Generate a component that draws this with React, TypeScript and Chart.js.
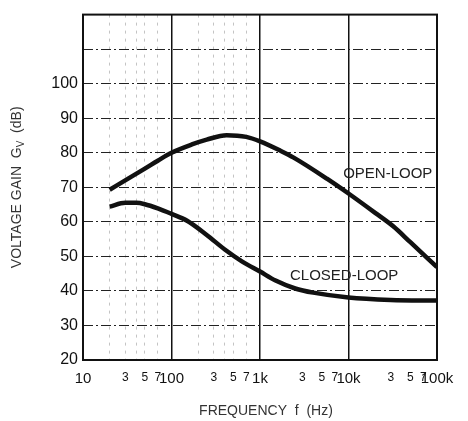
import React, { useEffect, useRef } from "react";
import { Chart, registerables } from "chart.js";

Chart.register(...registerables);

const openFreq = [20, 30, 50, 70, 100, 170, 250, 420, 700, 1000, 1700, 2400, 5700, 10000, 20000, 32000, 50000, 100000];
const openGain = [69.3, 72.0, 75.4, 77.7, 80.0, 82.4, 83.8, 85.1, 84.6, 83.3, 80.6, 78.6, 72.5, 68.2, 62.6, 58.7, 54.1, 46.9];

const closedFreq = [20, 30, 40, 50, 70, 100, 150, 250, 400, 630, 1000, 1500, 2500, 4000, 10000, 30000, 100000];
const closedGain = [64.4, 65.5, 65.5, 65.1, 63.9, 62.3, 60.3, 56.2, 52.0, 48.5, 45.6, 43.0, 40.7, 39.5, 38.1, 37.4, 37.2];

const xTicks = [10, 20, 30, 40, 50, 70, 100, 200, 300, 400, 500, 700, 1000, 3000, 5000, 7000, 10000, 30000, 50000, 70000, 100000];
const majorLabels: Record<number, string> = { 10: "10", 100: "100", 1000: "1k", 10000: "10k", 100000: "100k" };
const minorLabels: Record<number, string> = { 3: "3", 5: "5", 7: "7" };
const yTickLabels = ["20", "30", "40", "50", "60", "70", "80", "90", "100"];

const annotations = [
  { text: "OPEN-LOOP", x: 8700, y: 73.9 },
  { text: "CLOSED-LOOP", x: 2180, y: 44.4 },
];

const FAMILY = "'Liberation Sans', Arial, sans-serif";

const isMajor = (v: number) => majorLabels[v] !== undefined;
const mantissa = (v: number) => Math.round(v / Math.pow(10, Math.floor(Math.log10(v) + 1e-9)));

const framePlugin = {
  id: "frameAndTitles",
  afterDraw(chart: any) {
    const { ctx, chartArea, scales } = chart;
    const { left, top, right, bottom } = chartArea;
    ctx.save();
    ctx.strokeStyle = "#111";
    ctx.lineWidth = 2;
    ctx.strokeRect(left, top, right - left, bottom - top);

    ctx.fillStyle = "#222";
    ctx.font = `15px ${FAMILY}`;
    ctx.textAlign = "left";
    ctx.textBaseline = "middle";
    for (const a of annotations) {
      ctx.fillText(a.text, scales.x.getPixelForValue(a.x), scales.y.getPixelForValue(a.y));
    }

    ctx.fillStyle = "#333";
    ctx.font = `14px ${FAMILY}`;
    ctx.textAlign = "center";
    ctx.fillText("FREQUENCY  f  (Hz)", (left + right) / 2 + 6, 411);

    const midY = (top + bottom) / 2;
    ctx.translate(17, midY);
    ctx.rotate(-Math.PI / 2);
    const big = `14px ${FAMILY}`;
    const small = `10px ${FAMILY}`;
    const p1 = "VOLTAGE GAIN  G";
    const p2 = "V";
    const p3 = "  (dB)";
    ctx.font = big;
    const w1 = ctx.measureText(p1).width;
    const w3 = ctx.measureText(p3).width;
    ctx.font = small;
    const w2 = ctx.measureText(p2).width;
    const total = w1 + w2 + w3;
    let x0 = -total / 2;
    ctx.textAlign = "left";
    ctx.font = big;
    ctx.fillText(p1, x0, 0);
    x0 += w1;
    ctx.font = small;
    ctx.fillText(p2, x0, 4);
    x0 += w2;
    ctx.font = big;
    ctx.fillText(p3, x0, 0);
    ctx.restore();
  },
};

export default function App() {
  const ref = useRef<HTMLCanvasElement>(null);
  useEffect(() => {
    if (!ref.current) return;
    const chart = new Chart(ref.current, {
      type: "line",
      data: {
        datasets: [
          {
            label: "OPEN-LOOP",
            data: openFreq.map((f, i) => ({ x: f, y: openGain[i] })),
            borderColor: "#111",
            borderWidth: 4.5,
            pointRadius: 0,
            cubicInterpolationMode: "monotone",
            fill: false,
          },
          {
            label: "CLOSED-LOOP",
            data: closedFreq.map((f, i) => ({ x: f, y: closedGain[i] })),
            borderColor: "#111",
            borderWidth: 4.5,
            pointRadius: 0,
            cubicInterpolationMode: "monotone",
            fill: false,
          },
        ],
      },
      options: {
        responsive: false,
        animation: false,
        layout: { padding: { top: 11, right: 31, left: 0, bottom: 0 } },
        plugins: { legend: { display: false }, tooltip: { enabled: false } },
        scales: {
          x: {
            type: "logarithmic",
            min: 10,
            max: 100000,
            afterBuildTicks: (scale: any) => {
              scale.ticks = xTicks.map((v) => ({ value: v }));
            },
            afterFit: (scale: any) => {
              scale.height = 61;
            },
            border: {
              display: false,
              dash: (ctx: any) => (ctx.tick && isMajor(ctx.tick.value) ? [] : [3, 5]),
            },
            grid: {
              drawTicks: false,
              color: (ctx: any) => {
                const v = ctx.tick?.value;
                if (v === undefined) return "transparent";
                if (isMajor(v)) return "#111";
                if (v < 1000) return "#c4c4c4";
                return "transparent";
              },
              lineWidth: (ctx: any) => (ctx.tick && isMajor(ctx.tick.value) ? 1.5 : 1),
            },
            ticks: {
              autoSkip: false,
              maxRotation: 0,
              minRotation: 0,
              padding: 10,
              color: "#111",
              font: (ctx: any) => {
                const v = ctx.tick?.value;
                return { family: FAMILY, size: v !== undefined && isMajor(v) ? 15 : 12 };
              },
              callback: (value: any) => {
                const v = Number(value);
                if (isMajor(v)) return majorLabels[v];
                return minorLabels[mantissa(v)] ?? "";
              },
            },
          },
          y: {
            type: "linear",
            min: 20,
            max: 120,
            afterFit: (scale: any) => {
              scale.width = 83;
            },
            border: { display: false, dash: [10, 3, 2, 3] },
            grid: { drawTicks: false, color: "#222", lineWidth: 1 },
            ticks: {
              stepSize: 10,
              padding: 5,
              color: "#111",
              font: { family: FAMILY, size: 16 },
              callback: (value: any) => {
                const s = String(value);
                return yTickLabels.includes(s) ? s : "";
              },
            },
          },
        },
      },
      plugins: [framePlugin],
    } as any);
    return () => chart.destroy();
  }, []);
  return (
    <div style={{ position: "absolute", left: 0, top: 0, width: 468, height: 421, background: "#fff" }}>
      <canvas ref={ref} width={468} height={421} />
    </div>
  );
}
